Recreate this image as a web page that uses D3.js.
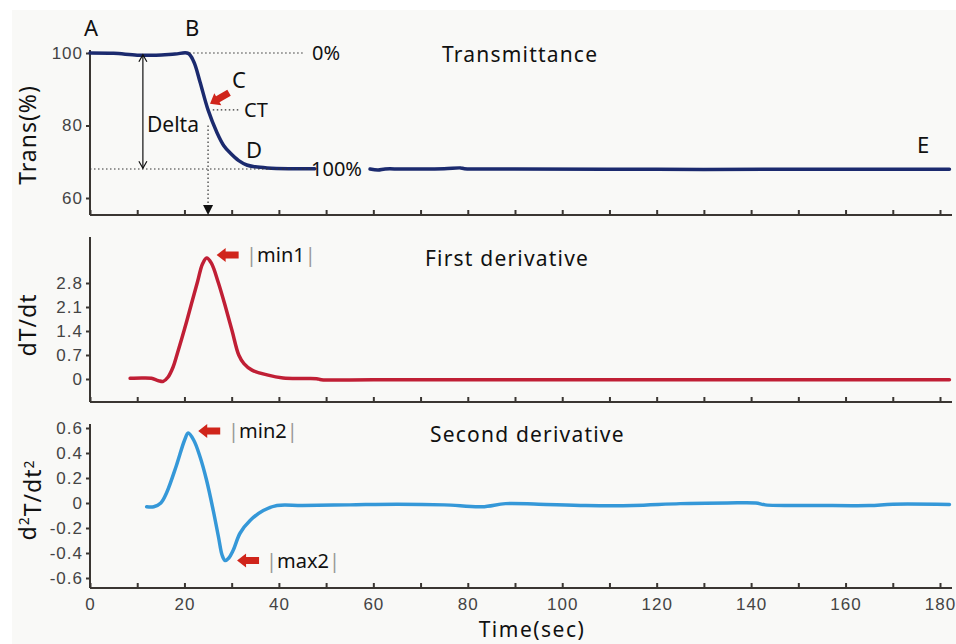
<!DOCTYPE html>
<html>
<head>
<meta charset="utf-8">
<script src="https://cdn.jsdelivr.net/npm/d3@7"></script>
<style>
  body { margin: 0; background: #fff; }
  svg { display: block; }
  .axis path, .axis line { stroke: #3a3632; stroke-width: 2; }
  .axis text { font-family: "Liberation Sans", Arial, sans-serif; font-size: 17px; fill: #444; letter-spacing: 1px; }
  .lbl { font-family: "Noto Sans", "DejaVu Sans", sans-serif; fill: #111; }
</style>
</head>
<body>
<div id="chart"></div>
<script>
// transmittance (%), gap where the "100%" label sits
var transTime = [0, 5, 10, 14, 18, 20.8, 22, 23.3, 25, 26.9, 28.3, 29.7, 31.5, 33.2, 35, 37.5, 42, 47.6,
                 53,
                 59.3, 61, 62.5, 66, 75, 78.5, 79.3, 90, 120, 150, 182];
var transVal  = [100, 99.9, 99.4, 99.4, 99.7, 99.9, 97.5, 92, 84.3, 78, 74.5, 72.4, 70.3, 69.1, 68.6, 68.3, 68.1, 68.1,
                 null,
                 68, 67.7, 68, 68, 68.1, 68.3, 68.1, 68, 67.9, 67.9, 67.9];

// first derivative
var d1Time = [8.5, 11, 13, 14.5, 15.5, 16.5, 17.6, 18.4, 20, 21.5, 22.8, 23.8, 24.7, 25.7, 27.2, 28.7, 30.1, 31.5, 32.6, 34.3, 37.5, 40.9, 45, 48, 49, 60, 100, 140, 182];
var d1Val  = [0.02, 0.03, 0.02, -0.05, -0.07, 0.05, 0.35, 0.7, 1.45, 2.2, 2.85, 3.35, 3.53, 3.38, 2.8, 2.1, 1.4, 0.7, 0.45, 0.26, 0.12, 0.03, 0.015, 0.01, -0.02, -0.02, -0.02, -0.02, -0.02];

// second derivative
var d2Time = [12, 13.5, 15, 16.2, 18.3, 20, 20.8, 22, 23.3, 24.7, 26.1, 27.2, 28, 28.6, 29.4, 30.3, 31.8, 33.9, 36.7, 39.6, 45, 55, 65, 75, 83, 88, 95, 105, 115, 125, 135, 141, 143, 155, 165, 170, 182];
var d2Val  = [-0.03, -0.03, 0, 0.08, 0.3, 0.5, 0.56, 0.5, 0.37, 0.18, -0.06, -0.27, -0.42, -0.46, -0.44, -0.38, -0.24, -0.14, -0.06, -0.02, -0.02, -0.015, -0.01, -0.015, -0.03, -0.005, -0.01, -0.02, -0.02, -0.005, 0, 0, -0.015, -0.02, -0.02, -0.01, -0.012];

var xTicks = d3.range(0, 181, 10);
var xLabels = [0, 20, 40, 60, 80, 100, 120, 140, 160, 180];
var transTicks = [60, 80, 100];
var d1Ticks = [0, 0.7, 1.4, 2.1, 2.8];
var d2Ticks = [-0.6, -0.4, -0.2, 0, 0.2, 0.4, 0.6];

var W = 956, H = 644;
var svg = d3.select("#chart").append("svg").attr("width", W).attr("height", H);
svg.append("rect").attr("x", 12).attr("y", 10).attr("width", W - 12).attr("height", H - 10).attr("fill", "#f9f9f7");

var x = d3.scaleLinear().domain([0, 180]).range([90, 940]);
var xEnd = 952;

var panels = [
  {time: transTime, val: transVal, y: d3.scaleLinear().domain([60, 100]).range([198, 53]), top: 50, bottom: 215,
   ticks: transTicks, fmt: d3.format("d"), color: "#1b2a6e", title: "Trans(%)", tx: 28, ty: 135, labels: false},
  {time: d1Time, val: d1Val, y: d3.scaleLinear().domain([0, 2.8]).range([379, 283]), top: 237, bottom: 402,
   ticks: d1Ticks, fmt: function(d){ return d === 0 ? "0" : d.toFixed(1); }, color: "#c01f35", title: "dT/dt", tx: 28, ty: 325, labels: false},
  {time: d2Time, val: d2Val, y: d3.scaleLinear().domain([0, 0.6]).range([503, 428]), top: 424, bottom: 588,
   ticks: d2Ticks, fmt: function(d){ return d === 0 ? "0" : d.toFixed(1); }, color: "#3598d8", title: null, tx: 28, ty: 500, labels: true}
];

panels.forEach(function(p){
  // x axis
  var gx = svg.append("g").attr("class", "axis").attr("transform", "translate(0," + p.bottom + ")");
  gx.call(d3.axisBottom(x).tickValues(xTicks).tickSizeInner(-5).tickSizeOuter(0).tickPadding(10)
      .tickFormat(function(d){ return p.labels && xLabels.indexOf(d) >= 0 ? d : ""; }));
  gx.select(".domain").attr("d", "M90,0H" + xEnd);

  // y axis
  var gy = svg.append("g").attr("class", "axis").attr("transform", "translate(90,0)");
  gy.call(d3.axisLeft(p.y).tickValues(p.ticks).tickSizeInner(4).tickSizeOuter(0).tickPadding(3).tickFormat(p.fmt));
  gy.select(".domain").attr("d", "M0," + p.top + "V" + p.bottom);

  var pts = p.time.map(function(t, i){ return [t, p.val[i]]; });
  var line = d3.line()
      .defined(function(d){ return d[1] !== null; })
      .x(function(d){ return x(d[0]); })
      .y(function(d){ return p.y(d[1]); })
      .curve(d3.curveCatmullRom.alpha(0.5));
  svg.append("path").datum(pts).attr("d", line)
     .attr("fill", "none").attr("stroke", p.color).attr("stroke-width", 3.5)
     .attr("stroke-linejoin", "round").attr("stroke-linecap", "round");

  if (p.title) {
    svg.append("text").attr("class", "lbl").attr("transform", "translate(" + p.tx + "," + p.ty + ") rotate(-90)")
       .attr("text-anchor", "middle").attr("dy", "0.35em").style("font-size", "23px")
       .style("letter-spacing", "1px").text(p.title);
  }
});

// d2T/dt2 title
var t3 = svg.append("text").attr("class", "lbl").attr("transform", "translate(28,500) rotate(-90)")
   .attr("text-anchor", "middle").attr("dy", "0.35em").style("font-size", "23px").style("letter-spacing", "1px");
t3.append("tspan").text("d");
t3.append("tspan").attr("dy", "-0.5em").style("font-size", "14px").text("2");
t3.append("tspan").attr("dy", "0.5em").text("T/dt");
t3.append("tspan").attr("dy", "-0.5em").style("font-size", "14px").text("2");

// x title
svg.append("text").attr("class", "lbl").attr("x", 532).attr("y", 637).attr("text-anchor", "middle")
   .style("font-size", "21px").style("letter-spacing", "1.5px").text("Time(sec)");

// panel titles
function label(txt, xp, yp, size, anchor) {
  return svg.append("text").attr("class", "lbl").attr("x", xp).attr("y", yp).attr("dy", "0.35em")
     .attr("text-anchor", anchor || "start").style("font-size", (size || 20) + "px").text(txt);
}
label("Transmittance", 442, 55, 21).style("letter-spacing", "1.2px");
label("First derivative", 425, 259, 21).style("letter-spacing", "1.2px");
label("Second derivative", 430, 435, 21).style("letter-spacing", "1.2px");

// transmittance annotations
var yT = panels[0].y;
function dotted(x1, y1, x2, y2) {
  svg.append("line").attr("x1", x1).attr("y1", y1).attr("x2", x2).attr("y2", y2)
     .attr("stroke", "#333").attr("stroke-width", 1.2).attr("stroke-dasharray", "1.5,2.5");
}
dotted(x(21), yT(100), x(45.5), yT(100));
dotted(x(0), yT(68), x(47), yT(68));
dotted(x(26), yT(84.3), x(31.5), yT(84.3));
dotted(x(25), yT(80), x(25), 207);
svg.append("path").attr("d", "M" + x(25) + ",215l-5,-10h10z").attr("fill", "#111");

// Delta double arrow
svg.append("line").attr("x1", x(11.2)).attr("y1", yT(99.5)).attr("x2", x(11.2)).attr("y2", yT(68.2))
   .attr("stroke", "#111").attr("stroke-width", 1.2);
svg.append("path").attr("d", "M" + (x(11.2) - 4) + "," + (yT(99.5) + 7) + "L" + x(11.2) + "," + yT(99.5) + "L" + (x(11.2) + 4) + "," + (yT(99.5) + 7))
   .attr("fill", "none").attr("stroke", "#111").attr("stroke-width", 1.2);
svg.append("path").attr("d", "M" + (x(11.2) - 4) + "," + (yT(68.2) - 7) + "L" + x(11.2) + "," + yT(68.2) + "L" + (x(11.2) + 4) + "," + (yT(68.2) - 7))
   .attr("fill", "none").attr("stroke", "#111").attr("stroke-width", 1.2);

label("A", 84, 28, 22);
label("B", 185, 28, 22);
label("C", 232, 80, 22);
label("CT", 244, 110, 20);
label("D", 246, 150, 22);
label("E", 917, 145, 22);
label("Delta", 147, 125, 21);
label("0%", 312, 53, 20);
label("100%", 311, 169, 20);

// red block arrows (pointing left, tip at origin)
var arrowPath = "M0,0L9,-7L9,-3.5L22,-3.5L22,3.5L9,3.5L9,7Z";
function arrow(tx, ty, rot) {
  svg.append("path").attr("d", arrowPath).attr("fill", "#d0251b")
     .attr("transform", "translate(" + tx + "," + ty + ") rotate(" + (rot || 0) + ")");
}
arrow(x(25.2) + 1, yT(86), -30);

var y1 = panels[1].y, y2 = panels[2].y;
arrow(x(24.7) + 10, y1(3.53) - 3);
arrow(x(20.8) + 10, y2(0.56) - 2);
arrow(x(28.6) + 12, y2(-0.46));

function absLabel(txt, xp, yp) {
  var t = svg.append("text").attr("class", "lbl").attr("x", xp).attr("y", yp).attr("dy", "0.35em").style("font-size", "20px");
  t.append("tspan").attr("fill", "#999").text("|");
  t.append("tspan").text(txt);
  t.append("tspan").attr("fill", "#999").text("|");
}
absLabel("min1", 246, y1(3.53) - 3);
absLabel("min2", 228, y2(0.56) - 2);
absLabel("max2", 266, y2(-0.46));
</script>
</body>
</html>
